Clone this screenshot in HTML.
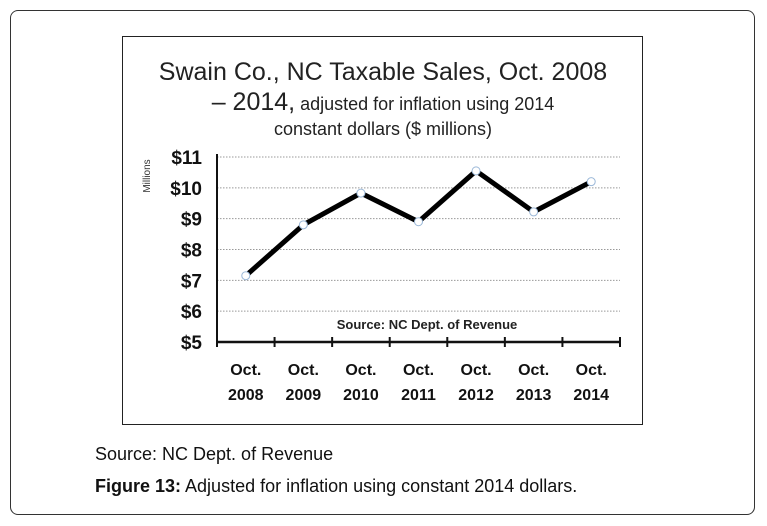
<!DOCTYPE html>
<html><head><meta charset="utf-8"><style>
body{margin:0;background:#fff;width:767px;height:526px;position:relative;font-family:"Liberation Sans",sans-serif;overflow:hidden}
#outer{position:absolute;left:10px;top:10px;width:745px;height:505px;border:1px solid #333;border-radius:8px;box-sizing:border-box}
#inner{position:absolute;left:122px;top:36px;width:521px;height:389px;border:1px solid #222;box-sizing:border-box}
.cap{position:absolute;left:95px;font-size:18px;color:#111}
</style></head><body>
<div id="outer"></div>
<div id="inner"></div>
<svg id="chart" width="767" height="526" style="position:absolute;left:0;top:0">
<g font-family="Liberation Sans Narrow, Liberation Sans, sans-serif" fill="#222" text-anchor="middle">
<text x="383" y="80" font-size="25">Swain Co., NC Taxable Sales, Oct. 2008</text>
<text x="383" y="110"><tspan font-size="25">– 2014,</tspan><tspan font-size="18"> adjusted for inflation using 2014</tspan></text>
<text x="383" y="135" font-size="18">constant dollars ($ millions)</text>
</g>
<text x="150" y="176" font-size="10" fill="#333" text-anchor="middle" transform="rotate(-90 150 176)">Millions</text>
<g id="grid"></g><g id="axes"></g><g id="series"></g>
<text x="427" y="329" font-size="13" font-weight="bold" fill="#222" text-anchor="middle">Source: NC Dept. of Revenue</text>
</svg>
<div class="cap" style="top:444px">Source: NC Dept. of Revenue</div>
<div class="cap" style="top:476px"><b>Figure 13:</b> Adjusted for inflation using constant 2014 dollars.</div>
<script>
const categories=["2008","2009","2010","2011","2012","2013","2014"];
const values=[7.15,8.8,9.83,8.9,10.55,9.22,10.2];
const yTicks=[5,6,7,8,9,10,11];
const NS="http://www.w3.org/2000/svg";
const L=217,R=620,T=157,B=342,yMin=5,yMax=11;
const y=v=>B-(v-yMin)/(yMax-yMin)*(B-T);
const bw=(R-L)/categories.length;
const x=i=>L+bw*(i+0.5);
function mk(tag,attrs,parent){const e=document.createElementNS(NS,tag);for(const k in attrs)e.setAttribute(k,attrs[k]);document.getElementById(parent).appendChild(e);return e;}
yTicks.forEach(t=>{
 if(t>yMin){const g=mk('line',{x1:L,x2:R,y1:y(t),y2:y(t),stroke:'#999','stroke-dasharray':'1.5,1.5'},'grid');
 
 }
 const tx=mk('text',{x:202,y:y(t)+7,'font-size':19,'font-weight':'bold','text-anchor':'end',fill:'#111'},'axes');
 tx.textContent='$'+t;
 
 
});
let a=mk('line',{x1:L,x2:L,y1:T-3,y2:B,stroke:'#111','stroke-width':2},'axes');


a=mk('line',{x1:L,x2:R,y1:B,y2:B,stroke:'#111','stroke-width':2.5},'axes');


for(let i=0;i<=categories.length;i++){const tk=mk('line',{x1:L+bw*i,x2:L+bw*i,y1:B-5,y2:B+5,stroke:'#111','stroke-width':2},'axes');
 
 }
categories.forEach((c,i)=>{
 const t1=mk('text',{x:x(i),y:375,'font-size':16,'font-weight':'bold','text-anchor':'middle',fill:'#111'},'axes');t1.textContent='Oct.';
 
 
 const t2=mk('text',{x:x(i),y:400,'font-size':16,'font-weight':'bold','text-anchor':'middle',fill:'#111'},'axes');t2.textContent=c;
 
 
});
const p=mk('polyline',{points:values.map((v,i)=>x(i)+','+y(v)).join(' '),fill:'none',stroke:'#000','stroke-width':5,'stroke-linejoin':'round'},'series');


values.forEach((v,i)=>{const c=mk('circle',{cx:x(i),cy:y(v),r:4,fill:'#fff',stroke:'#9bb8d8','stroke-width':1},'series');
 
 });
</script>
</body></html>
